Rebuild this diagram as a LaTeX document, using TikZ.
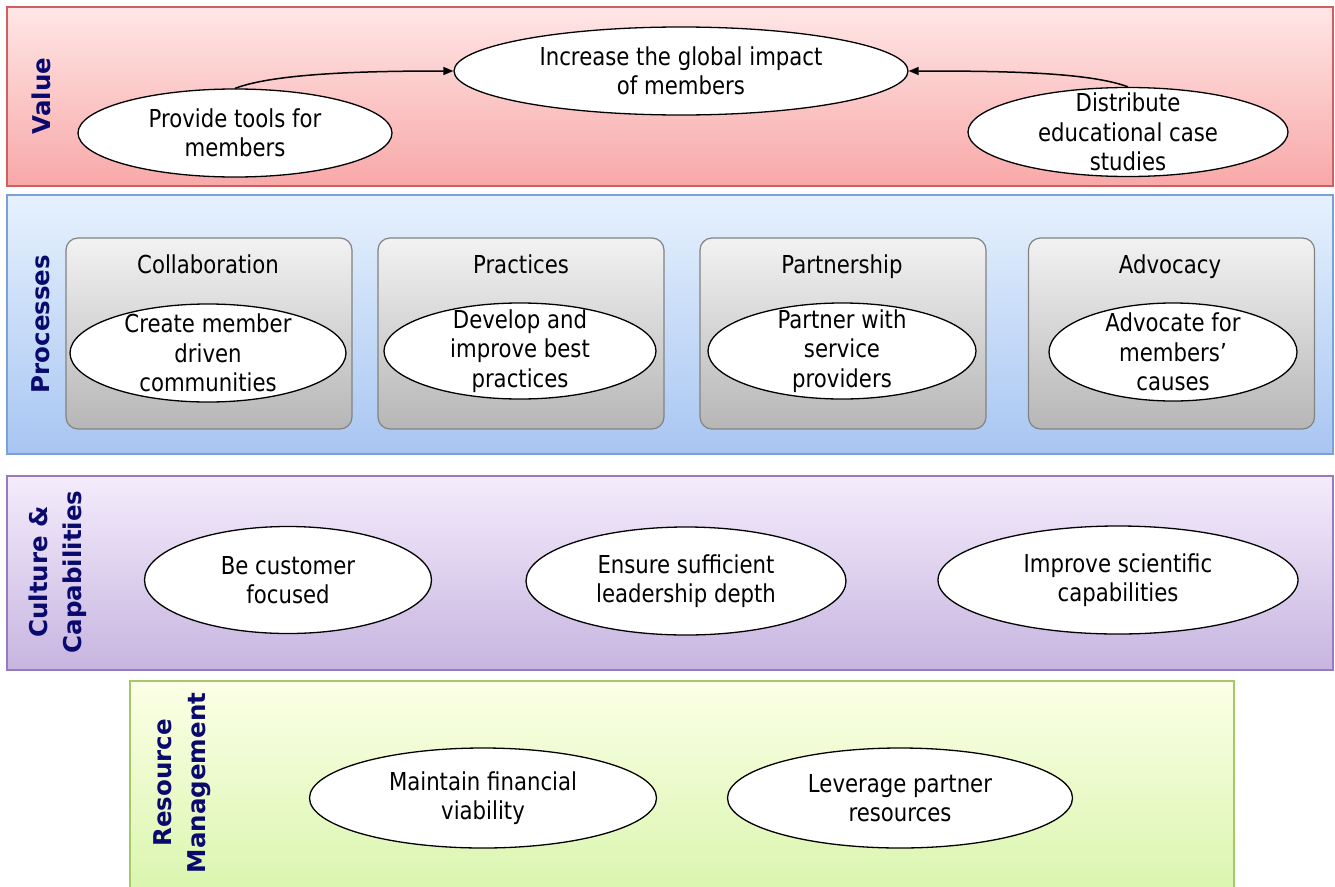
\documentclass[tikz,border=0pt]{standalone}
\usepackage{fontspec}
\setmainfont{DejaVu Sans}[FakeStretch=0.86]
\newfontfamily\headfont{DejaVu Sans}
\usetikzlibrary{shapes.geometric,arrows.meta}

\definecolor{navy}{RGB}{10,10,110}
\definecolor{valTop}{RGB}{255,230,230}
\definecolor{valBot}{RGB}{248,168,168}
\definecolor{valLine}{RGB}{208,96,96}
\definecolor{proTop}{RGB}{230,241,253}
\definecolor{proBot}{RGB}{168,198,242}
\definecolor{proLine}{RGB}{122,160,214}
\definecolor{culTop}{RGB}{244,236,252}
\definecolor{culBot}{RGB}{199,181,224}
\definecolor{culLine}{RGB}{150,124,190}
\definecolor{resTop}{RGB}{252,255,230}
\definecolor{resBot}{RGB}{216,245,172}
\definecolor{resLine}{RGB}{164,201,104}
\definecolor{boxTop}{RGB}{242,242,242}
\definecolor{boxBot}{RGB}{182,182,182}
\definecolor{boxLine}{RGB}{130,130,130}

\begin{document}
\begin{tikzpicture}[x=1pt,y=-1pt,
  band/.style={line width=1.6pt},
  bandlabel/.style={rotate=90, align=center, text=navy,
    font=\headfont\bfseries\fontsize{24.5}{34}\selectfont},
  goal/.style={ellipse, draw=black, fill=white, line width=1.3pt,
    inner xsep=0pt, inner ysep=0pt, align=center,
    font=\fontsize{24.7}{29.3}\selectfont},
  tall/.style={inner ysep=-9pt},
  procbox/.style={draw=boxLine, line width=1.2pt, rounded corners=12pt,
    top color=boxTop, bottom color=boxBot, minimum width=286pt,
    minimum height=191pt, inner sep=0pt},
  proctitle/.style={anchor=base, font=\fontsize{24.7}{29.3}\selectfont},
  flow/.style={line width=1.5pt, -{Triangle[length=10pt,width=8pt]}}]
\useasboundingbox (0,0) rectangle (1335,886);
\clip (0,0) rectangle (1335,886);

% four horizontal bands
\path[band, draw=valLine, top color=valTop, bottom color=valBot]
  (7,7) rectangle (1333,186);
\path[band, draw=proLine, top color=proTop, bottom color=proBot]
  (7,195) rectangle (1333,454);
\path[band, draw=culLine, top color=culTop, bottom color=culBot]
  (7,476) rectangle (1333,670);
\path[band, draw=resLine, top color=resTop, bottom color=resBot]
  (130,681) rectangle (1234,900);

% band headings
\node[bandlabel] (lblValue) at (41,96) {Value};
\node[bandlabel] (lblProc) at (41,324) {Processes};
\node[bandlabel] (lblCult) at (58,572) {Culture \&\\Capabilities};
\node[bandlabel] (lblRes) at (182,783) {Resource\\Management};

% value
\node[goal, minimum width=454pt, minimum height=88pt] (inc) at (681,71)
  {Increase the global impact\\of members};
\node[goal, minimum width=314pt, minimum height=88pt] (prov) at (235,133)
  {Provide tools for\\members};
\node[goal, tall, inner ysep=-11pt, minimum width=320pt, minimum height=89pt]
  (dist) at (1128,132) {Distribute\\educational case\\studies};
\draw[flow] (prov.north) .. controls +(40,-15) and +(-90,0) .. (inc.west);
\draw[flow] (dist.north) .. controls +(-40,-15) and +(90,0) .. (inc.east);

% processes
\node[procbox] (collab) at (209,333.5) {};
\node[procbox] (pract) at (521,333.5) {};
\node[procbox] (partn) at (843,333.5) {};
\node[procbox] (advoc) at (1171.5,333.5) {};
\node[proctitle] (collabT) at (208,273) {Collaboration};
\node[proctitle] (practT) at (521,273) {Practices};
\node[proctitle] (partnT) at (842,273) {Partnership};
\node[proctitle] (advocT) at (1170,273) {Advocacy};
\node[goal, tall, minimum width=276pt, minimum height=98pt] (create)
  at (208,353) {Create member\\driven\\communities};
\node[goal, tall, minimum width=272pt, minimum height=96pt] (develop)
  at (520,351) {Develop and\\improve best\\practices};
\node[goal, tall, minimum width=268pt, minimum height=96pt] (partner)
  at (842,351) {Partner with\\service\\providers};
\node[goal, tall, minimum width=248pt, minimum height=98pt] (advocate)
  at (1173,352) {Advocate for\\members’\\causes};

% culture and capabilities
\node[goal, minimum width=287pt, minimum height=107pt] (cust) at (288,580)
  {Be customer\\focused};
\node[goal, minimum width=320pt, minimum height=108pt] (lead) at (686,581)
  {Ensure sufficient\\leadership depth};
\node[goal, minimum width=360pt, minimum height=108pt] (sci) at (1118,580)
  {Improve scientific\\capabilities};

% resource management
\node[goal, minimum width=347pt, minimum height=100pt] (fin) at (483,798)
  {Maintain financial\\viability};
\node[goal, minimum width=345pt, minimum height=100pt] (lev) at (900,798)
  {Leverage partner\\resources};
\end{tikzpicture}
\end{document}
